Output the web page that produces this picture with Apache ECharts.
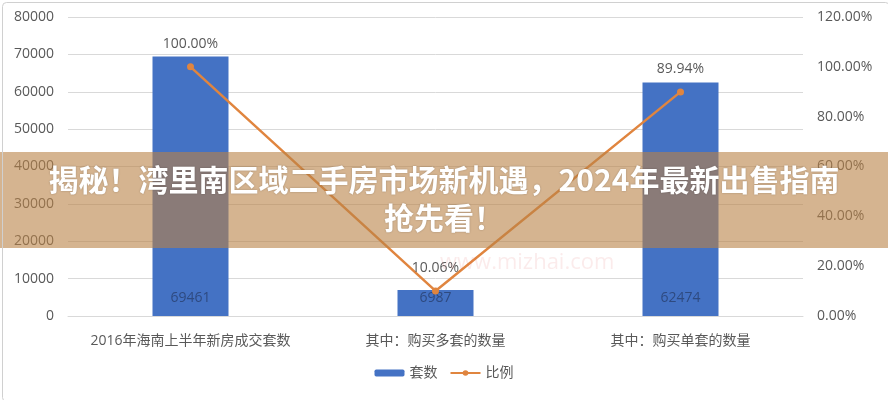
<!DOCTYPE html>
<html>
<head>
<meta charset="utf-8">
<script src="https://cdn.jsdelivr.net/npm/echarts@6/dist/echarts.min.js"></script>
<style>
html,body{margin:0;padding:0;background:#fff;}
#c{width:888px;height:400px;}
</style>
</head>
<body>
<div id="c"></div>
<script>
const categories = ['2016年海南上半年新房成交套数', '其中：购买多套的数量', '其中：购买单套的数量'];
const countValues = [69461, 6987, 62474];
const ratioValues = [1.0, 0.1006, 0.8994];
const seriesNames = ['套数', '比例'];
const titleLines = ['揭秘！湾里南区域二手房市场新机遇，2024年最新出售指南', '抢先看！'];

const FONT = '"Open Sans", "Noto Sans CJK SC", sans-serif';
const chart = echarts.init(document.getElementById('c'), null, {renderer: 'canvas'});
chart.setOption({
  animation: false,
  backgroundColor: '#ffffff',
  textStyle: {fontFamily: FONT},
  grid: {left: 68, right: 85, top: 17, bottom: 84},
  legend: {
    data: seriesNames,
    bottom: 15,
    left: 'center',
    itemWidth: 30,
    itemHeight: 7,
    itemGap: 12,
    textStyle: {color: '#595959', fontSize: 14, fontFamily: FONT}
  },
  xAxis: {
    type: 'category',
    data: categories,
    axisLine: {lineStyle: {color: '#D9D9D9'}},
    axisTick: {show: false},
    axisLabel: {color: '#595959', fontSize: 14, margin: 18, interval: 0, fontFamily: FONT}
  },
  yAxis: [{
    type: 'value', min: 0, max: 80000, interval: 10000,
    axisLine: {show: false}, axisTick: {show: false},
    splitLine: {lineStyle: {color: '#D9D9D9'}},
    axisLabel: {color: '#595959', fontSize: 14, margin: 14, fontFamily: FONT,
      formatter: v => String(v)}
  }, {
    type: 'value', min: 0, max: 1.2, interval: 0.2,
    axisLine: {show: false}, axisTick: {show: false},
    splitLine: {show: false},
    axisLabel: {color: '#595959', fontSize: 14, margin: 14, fontFamily: FONT,
      formatter: v => (v * 100).toFixed(2) + '%'}
  }],
  series: [{
    name: seriesNames[0],
    type: 'bar',
    data: countValues,
    barWidth: 76,
    itemStyle: {color: '#4472C4'},
    label: {show: true, position: 'insideBottom', distance: 11, color: '#2E4A80', fontSize: 14, fontFamily: FONT}
  }, {
    name: seriesNames[1],
    type: 'line',
    yAxisIndex: 1,
    data: ratioValues,
    symbol: 'circle',
    symbolSize: 7,
    lineStyle: {color: '#E0853F', width: 2.5},
    itemStyle: {color: '#E0853F'},
    label: {show: true, position: 'top', distance: 12, color: '#595959', fontSize: 14, fontFamily: FONT,
      formatter: p => (p.value * 100).toFixed(2) + '%'}
  }],
  graphic: [
    {type: 'text', left: 440, top: 252, z: 5, silent: true,
     style: {text: 'www.mizhai.com', fill: 'rgba(220,90,90,0.12)', font: '22px "Open Sans", sans-serif'}},
    {type: 'rect', left: 0, top: 152, z: 100, silent: true,
     shape: {width: 888, height: 96},
     style: {fill: 'rgba(185,130,70,0.6)'}},
    {type: 'text', left: 'center', top: 165, z: 101, silent: true,
     style: {text: titleLines[0], fill: '#ffffff', font: 'bold 30px "Noto Sans CJK SC", sans-serif',
       textShadowColor: 'rgba(0,0,0,0.25)', textShadowBlur: 2}},
    {type: 'text', left: 'center', top: 203, z: 101, silent: true,
     style: {text: titleLines[1], fill: '#ffffff', font: 'bold 30px "Noto Sans CJK SC", sans-serif',
       textShadowColor: 'rgba(0,0,0,0.25)', textShadowBlur: 2}},
    {type: 'rect', left: 0, top: 0, z: 102, silent: true,
     shape: {width: 887, height: 399, r: 4},
     style: {fill: 'none', stroke: '#d0d0d0', lineWidth: 1}}
  ]
});
</script>
</body>
</html>
